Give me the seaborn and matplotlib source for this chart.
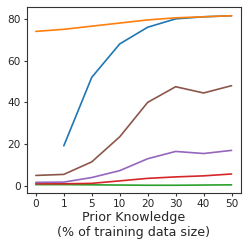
import numpy as np
import pandas as pd
import seaborn as sns
import matplotlib
matplotlib.use("Agg")
import matplotlib.pyplot as plt

prior = ["0", "1", "5", "10", "20", "30", "40", "50"]
blue = [np.nan, 19.2, 52.0, 68.0, 76.0, 80.0, 81.0, 81.5]
orange = [74.0, 75.0, 76.5, 78.0, 79.5, 80.5, 81.0, 81.5]
green = [0.6, 0.6, 0.5, 0.4, 0.3, 0.3, 0.4, 0.5]
red = [1.0, 1.0, 1.2, 2.4, 3.6, 4.3, 4.8, 5.7]
purple = [1.7, 1.8, 4.0, 7.3, 13.0, 16.5, 15.5, 17.0]
brown = [5.0, 5.5, 11.5, 23.5, 40.0, 47.5, 44.5, 48.0]

series = [blue, orange, green, red, purple, brown]
colors = sns.color_palette("tab10", 6)

sns.set_style("ticks")
fig = plt.figure(figsize=(2.49, 2.49), dpi=100)
ax = fig.add_axes([0.108, 0.225, 0.859, 0.747])
pos = np.arange(len(prior))
for vals, c in zip(series, colors):
    df = pd.DataFrame({"x": pos, "y": vals}).dropna()
    sns.lineplot(data=df, x="x", y="y", color=c, lw=1.2, ax=ax)

ax.set_xticks(pos)
ax.set_xticklabels(prior)
ax.set_yticks([0, 20, 40, 60, 80])
ax.set_ylim(-3.4, 85.7)
ax.set_xlim(-0.32, 7.33)
ax.tick_params(labelsize=7.6, length=2.5, width=0.8, pad=2, color="#333333")
ax.set_xlabel("Prior Knowledge\n(% of training data size)", fontsize=9.1, labelpad=1)
ax.set_ylabel("")
for s in ax.spines.values():
    s.set_visible(True)
    s.set_color("#333333")
    s.set_linewidth(0.8)
fig.savefig("out.png", dpi=100)
